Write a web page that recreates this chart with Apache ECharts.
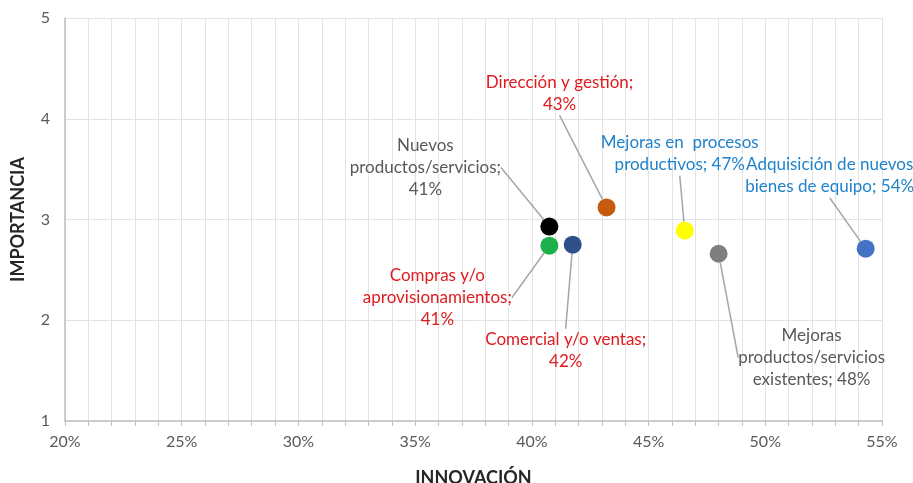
<!DOCTYPE html>
<html>
<head>
<meta charset="utf-8">
<script src="https://cdn.jsdelivr.net/npm/echarts@6/dist/echarts.min.js"></script>
<style>
  html, body { margin: 0; padding: 0; background: #fff; }
  #main { width: 913px; height: 483px; }
</style>
</head>
<body>
<div id="main"></div>
<script>
// datos
var labels = [
  'Nuevos\nproductos/servicios;\n41%',
  'Compras y/o\naprovisionamientos;\n41%',
  'Comercial y/o ventas;\n42%',
  'Dirección y gestión;\n43%',
  'Mejoras en  procesos\nproductivos; 47%',
  'Mejoras\nproductos/servicios\nexistentes; 48%',
  'Adquisición de nuevos\nbienes de equipo; 54%'
];
var innovacion = [40.75, 40.75, 41.75, 43.2, 46.55, 48.0, 54.3];
var importancia = [2.93, 2.74, 2.75, 3.12, 2.89, 2.66, 2.71];
var xTicks = [20, 55];
var yTicks = [1, 5];

// colores de puntos y etiquetas
var pointColors = ['#000000', '#1db14b', '#2f4f8b', '#c55a11', '#ffff00', '#7f7f7f', '#4472c4'];
var labelColors = ['#595959', '#e01b1f', '#e01b1f', '#e01b1f', '#1f83cc', '#595959', '#1f83cc'];
// desplazamiento de cada etiqueta respecto al punto
var labelOffsets = [[-124, -59], [-112, 52], [-7, 106], [-47, -114], [-5, -77], [93, 104], [-36, -73]];

var chart = echarts.init(document.getElementById('main'));

var points = innovacion.map(function (x, i) {
  return {
    value: [x, importancia[i]],
    itemStyle: { color: pointColors[i], opacity: 1 },
    label: { formatter: labels[i], color: labelColors[i] }
  };
});

chart.setOption({
  animation: false,
  textStyle: { fontFamily: 'Lato' },
  grid: { left: 65, right: 31, top: 18, bottom: 62, outerBoundsMode: 'none', containLabel: false },
  xAxis: {
    type: 'value',
    min: xTicks[0],
    max: xTicks[1],
    interval: 5,
    name: 'INNOVACIÓN',
    nameLocation: 'middle',
    nameGap: 48,
    nameTextStyle: { fontSize: 18, fontWeight: 'bold', color: '#262626' },
    axisLine: { show: true, lineStyle: { color: '#bfbfbf', width: 1.5 } },
    axisTick: { show: true, length: 5, lineStyle: { color: '#bfbfbf' } },
    minorTick: { show: true, splitNumber: 5, length: 5, lineStyle: { color: '#bfbfbf' } },
    axisLabel: { color: '#595959', fontSize: 16, margin: 13, formatter: '{value}%' },
    splitLine: { show: true, lineStyle: { color: '#e3e3e3' } },
    minorSplitLine: { show: true, lineStyle: { color: '#e3e3e3' } }
  },
  yAxis: {
    type: 'value',
    min: yTicks[0],
    max: yTicks[1],
    interval: 1,
    name: 'IMPORTANCIA',
    nameLocation: 'middle',
    nameGap: 38,
    nameTextStyle: { fontSize: 18, fontWeight: 'bold', color: '#262626' },
    axisLine: { show: true, lineStyle: { color: '#bfbfbf', width: 1.5 } },
    axisTick: { show: false },
    axisLabel: { color: '#595959', fontSize: 16, margin: 15 },
    splitLine: { show: true, lineStyle: { color: '#e3e3e3' } }
  },
  series: [{
    type: 'scatter',
    symbolSize: 18,
    data: points,
    label: {
      show: true,
      position: 'inside',
      align: 'center',
      verticalAlign: 'middle',
      fontSize: 17,
      lineHeight: 22
    },
    labelLine: {
      show: true,
      lineStyle: { color: '#a6a6a6', width: 1.5 }
    },
    labelLayout: function (params) {
      var o = labelOffsets[params.dataIndex];
      return { dx: o[0], dy: o[1] };
    }
  }]
});
</script>
</body>
</html>
